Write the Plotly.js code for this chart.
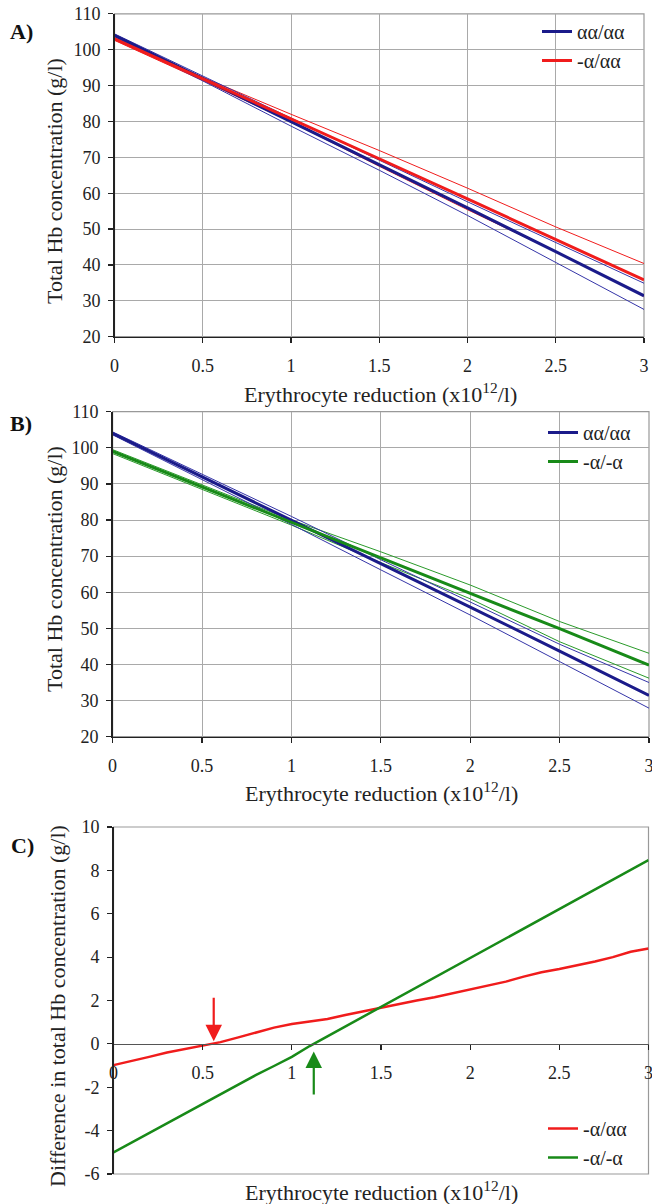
<!DOCTYPE html>
<html><head><meta charset="utf-8">
<script src="https://cdn.plot.ly/plotly-3.0.1.min.js"></script>
<style>body{margin:0;padding:0;background:#fff}#chart{width:652px;height:1204px}</style>
</head><body><div id="chart"></div>
<script>
// ---------- data ----------
const xAB = [0, 0.5, 1, 1.5, 2, 2.5, 3];
// alpha alpha / alpha alpha (normal) - mean and confidence limits
const aaMean   = [104.0, 92.0, 80.0, 67.9, 55.9, 43.7, 31.4];
const aaUpperA = [104.4, 92.6, 80.9, 69.2, 57.6, 46.3, 34.9];
const aaLowerA = [103.6, 91.3, 78.7, 66.4, 53.8, 40.6, 27.6];
const aaUpperB = [104.4, 92.7, 81.0, 69.0, 57.2, 45.6, 35.0];
const aaLowerB = [103.6, 91.3, 78.8, 66.2, 53.7, 40.8, 27.9];
// -alpha / alpha alpha
const a3Mean  = [103.0, 91.9, 80.9, 69.6, 58.4, 47.1, 35.8];
const a3Upper = [103.3, 92.3, 82.0, 71.9, 61.4, 50.6, 40.4];
const a3Lower = [102.6, 91.4, 79.9, 67.5, 55.4, 43.7, 31.3];
// -alpha / -alpha
const a2Mean  = [99.0, 89.2, 79.4, 69.6, 59.8, 49.9, 39.8];
const a2Upper = [99.5, 89.8, 80.0, 71.2, 62.0, 51.9, 43.1];
const a2Lower = [98.4, 88.5, 78.6, 68.2, 58.2, 46.3, 36.2];

// Panel C: differences vs alpha alpha / alpha alpha
const xC = [0, 0.1, 0.2, 0.3, 0.4, 0.5, 0.6, 0.7, 0.8, 0.9, 1.0, 1.1, 1.2, 1.3, 1.4, 1.5,
            1.6, 1.7, 1.8, 1.9, 2.0, 2.1, 2.2, 2.3, 2.4, 2.5, 2.6, 2.7, 2.8, 2.9, 3.0];
const diffA3 = [-0.98, -0.80, -0.60, -0.40, -0.25, -0.09, 0.08, 0.30, 0.52, 0.75, 0.92, 1.02, 1.15, 1.33, 1.50, 1.68,
                1.85, 2.00, 2.15, 2.33, 2.50, 2.68, 2.87, 3.10, 3.30, 3.45, 3.62, 3.80, 4.00, 4.25, 4.40];
const diffA2 = [-5.00, -4.55, -4.10, -3.65, -3.20, -2.75, -2.30, -1.85, -1.43, -1.02, -0.60, -0.10, 0.35, 0.80, 1.25, 1.70,
                2.15, 2.60, 3.05, 3.50, 3.95, 4.40, 4.85, 5.30, 5.75, 6.20, 6.65, 7.10, 7.55, 8.00, 8.47];
const zeroCross = [0.562, 1.123];   // x where each difference crosses zero (arrows)

const xTickVals = [0, 0.5, 1, 1.5, 2, 2.5, 3];
const yTickValsC = [-6, -4, -2, 0, 2, 4, 6, 8, 10];
const yTickTextC = ['-6', '-4', '-2', '0', '2', '4', '6', '8', '10'];

const nameAA = 'αα/αα', nameA3 = '-α/αα', nameA2 = '-α/-α';

// ---------- styles ----------
const W = 652, H = 1204;
const px = v => v / W, py = v => 1 - v / H;
const FONT = "'Liberation Serif', 'Times New Roman', serif";
const BLUE = '#1b1b8a', BLUE_T = '#3535a8', RED = '#f01c1c', GREEN = '#188a18', GREEN_T = '#2a9a2a';
const GRID = '#a9a9a9', AX = '#222';

function thin(x, y, c, xa, ya) {
  return {x: x, y: y, mode: 'lines', line: {color: c, width: 1}, showlegend: false,
          hoverinfo: 'skip', xaxis: xa, yaxis: ya};
}
function thick(x, y, c, name, xa, ya, leg) {
  return {x: x, y: y, mode: 'lines', line: {color: c, width: 3}, name: name,
          legendgroup: name + leg, xaxis: xa, yaxis: ya, legend: leg};
}

const traces = [
  // A
  thin(xAB, a3Upper, RED, 'x', 'y'),
  thin(xAB, a3Lower, RED, 'x', 'y'),
  thin(xAB, aaUpperA, BLUE_T, 'x', 'y'),
  thin(xAB, aaLowerA, BLUE_T, 'x', 'y'),
  thick(xAB, aaMean, BLUE, nameAA, 'x', 'y', 'legend'),
  thick(xAB, a3Mean, RED, nameA3, 'x', 'y', 'legend'),
  // B
  thin(xAB, a2Upper, GREEN_T, 'x2', 'y2'),
  thin(xAB, a2Lower, GREEN_T, 'x2', 'y2'),
  thin(xAB, aaUpperB, BLUE_T, 'x2', 'y2'),
  thin(xAB, aaLowerB, BLUE_T, 'x2', 'y2'),
  thick(xAB, aaMean, BLUE, nameAA, 'x2', 'y2', 'legend2'),
  thick(xAB, a2Mean, GREEN, nameA2, 'x2', 'y2', 'legend2'),
  // C
  {x: xC, y: diffA3, mode: 'lines', line: {color: RED, width: 2.5}, name: nameA3,
   legendgroup: 'c1', xaxis: 'x3', yaxis: 'y3', legend: 'legend3'},
  {x: xC, y: diffA2, mode: 'lines', line: {color: GREEN, width: 2.5}, name: nameA2,
   legendgroup: 'c2', xaxis: 'x3', yaxis: 'y3', legend: 'legend3'}
];

const tickFont = {family: FONT, size: 18, color: '#222'};
function xax(dom, anchor) {
  return {domain: dom, anchor: anchor, range: [0, 3], tickvals: xTickVals, showgrid: true, gridcolor: GRID,
          gridwidth: 1, showline: true, linecolor: AX, linewidth: 1.5, ticks: 'outside', ticklen: 5,
          tickcolor: AX, tickwidth: 1.2, tickfont: tickFont, zeroline: false, ticklabelstandoff: 7,
          ticklabeloverflow: 'allow'};
}
function yax(dom, anchor) {
  return {domain: dom, anchor: anchor, range: [20, 110], dtick: 10, tick0: 20, showgrid: true, gridcolor: GRID,
          gridwidth: 1, showline: true, linecolor: AX, linewidth: 1.5, ticks: 'outside', ticklen: 5,
          tickcolor: AX, tickwidth: 1.2, tickfont: tickFont, zeroline: false, ticklabelstandoff: 4};
}

const domA = {x: [px(114.5), px(644)], y: [py(336.7), py(13.8)]};
const domB = {x: [px(112.6), px(649)], y: [py(736.7), py(411.7)]};
const domC = {x: [px(113.5), px(648.5)], y: [py(1174), py(827)]};
const zeroPos = domC.y[0] + (6 / 16) * (domC.y[1] - domC.y[0]);

const legFont = {family: FONT, size: 20, color: '#222'};
function leg(x, y) {
  return {x: px(x), y: py(y), xanchor: 'left', yanchor: 'top', bgcolor: 'rgba(0,0,0,0)',
          font: legFont, traceorder: 'grouped', tracegroupgap: 0, itemwidth: 30};
}

const titleFont = {family: FONT, size: 22, color: '#222'};
function ann(text, x, y, rot, font) {
  return {text: text, x: px(x), y: py(y), xref: 'paper', yref: 'paper', showarrow: false,
          xanchor: 'center', yanchor: 'middle', textangle: rot || 0, font: font || titleFont};
}
const xTitle = 'Erythrocyte reduction (x10<sup>12</sup>/l)';
const yTitle = 'Total Hb concentration (g/l)';
const yTitleC = 'Difference in total Hb concentration (g/l)';
const labFont = {family: FONT, size: 22, color: '#111', weight: 'bold'};

const layout = {
  width: W, height: H, margin: {l: 0, r: 0, t: 0, b: 0}, paper_bgcolor: '#fff', plot_bgcolor: '#fff',
  font: {family: FONT, color: '#222'},
  xaxis: xax(domA.x, 'y'), yaxis: yax(domA.y, 'x'),
  xaxis2: xax(domB.x, 'y2'), yaxis2: yax(domB.y, 'x2'),
  xaxis3: Object.assign(xax(domC.x, 'free'), {position: zeroPos, showgrid: false, linecolor: '#555', linewidth: 1.5}),
  yaxis3: {domain: domC.y, anchor: 'x3', range: [-6, 10], tickvals: yTickValsC, ticktext: yTickTextC,
           showgrid: false, zeroline: false, showline: true, linecolor: AX, linewidth: 1.5, ticks: 'outside',
           ticklen: 5, tickcolor: AX, tickwidth: 1.2, tickfont: tickFont, ticklabelstandoff: 4},
  showlegend: true,
  legend: leg(537, 12),
  legend2: leg(543, 413),
  legend3: leg(543, 1109),
  shapes: [
    {type: 'rect', xref: 'x domain', yref: 'y domain', x0: 0, x1: 1, y0: 0, y1: 1, line: {color: '#999', width: 1.2}, layer: 'below'},
    {type: 'rect', xref: 'x2 domain', yref: 'y2 domain', x0: 0, x1: 1, y0: 0, y1: 1, line: {color: '#999', width: 1.2}, layer: 'below'},
    {type: 'rect', xref: 'x3 domain', yref: 'y3 domain', x0: 0, x1: 1, y0: 0, y1: 1, line: {color: '#999', width: 1.2}, layer: 'below'}
  ],
  annotations: [
    ann(xTitle, 380, 393), ann(xTitle, 381, 792), ann(xTitle, 381, 1191),
    ann(yTitle, 54, 181, -90), ann(yTitle, 54, 569, -90), ann(yTitleC, 57, 1006, -90),
    ann('A)', 21, 31, 0, labFont), ann('B)', 21, 424, 0, labFont), ann('C)', 22, 845, 0, labFont),
    {text: '', x: zeroCross[0], y: 0.12, xref: 'x3', yref: 'y3', ax: zeroCross[0], ay: 2.2, axref: 'x3', ayref: 'y3',
     showarrow: true, arrowhead: 2, arrowsize: 1.5, arrowwidth: 2.2, arrowcolor: RED, standoff: 0},
    {text: '', x: zeroCross[1], y: -0.35, xref: 'x3', yref: 'y3', ax: zeroCross[1], ay: -2.4, axref: 'x3', ayref: 'y3',
     showarrow: true, arrowhead: 2, arrowsize: 1.5, arrowwidth: 2.2, arrowcolor: GREEN, standoff: 0}
  ]
};

Plotly.newPlot('chart', traces, layout, {staticPlot: true, displayModeBar: false});
</script></body></html>
